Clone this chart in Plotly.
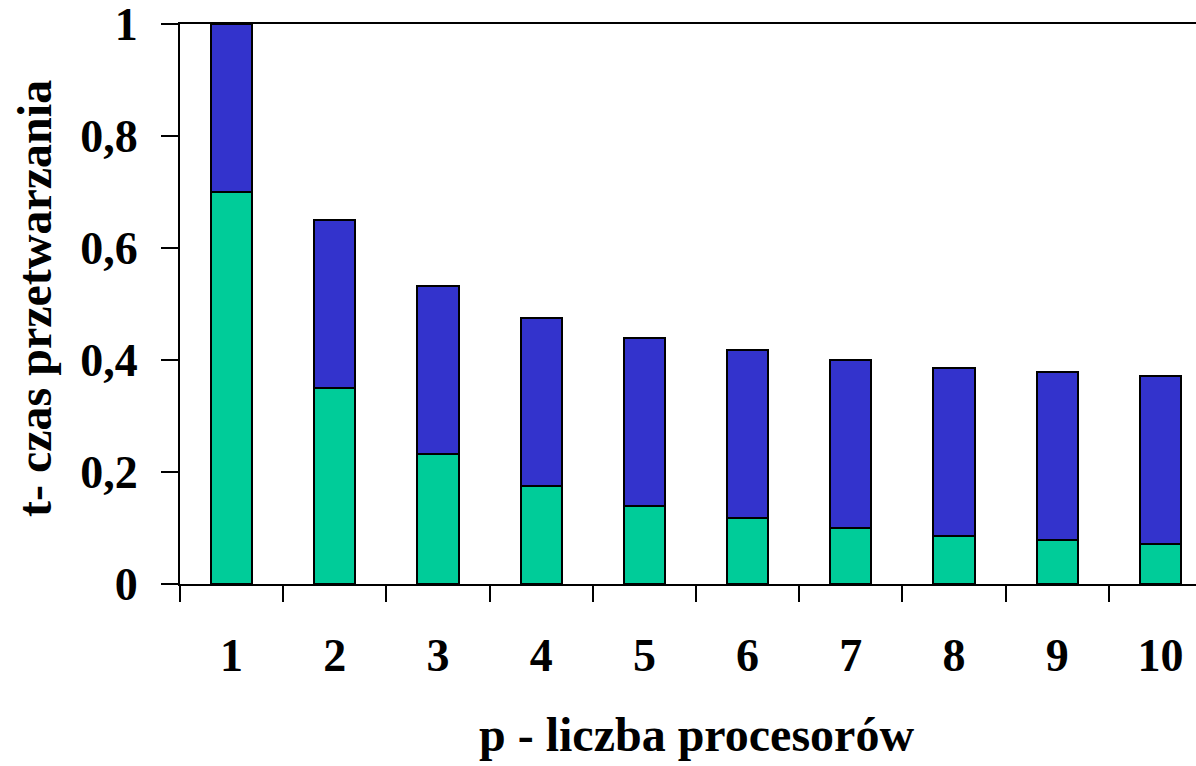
import plotly.graph_objects as go

# number of processors
processors = ["1", "2", "3", "4", "5", "6", "7", "8", "9", "10"]
# parallelisable part of processing time (shrinks with p)
parallel_part = [0.7, 0.35, 0.233, 0.175, 0.14, 0.118, 0.1, 0.086, 0.078, 0.071]
# sequential part of processing time (constant)
sequential_part = [0.3, 0.3, 0.3, 0.3, 0.3, 0.3, 0.3, 0.3, 0.3, 0.3]

y_tickvals = [0, 0.2, 0.4, 0.6, 0.8, 1]
y_ticktext = ["0", "0,2", "0,4", "0,6", "0,8", "1"]

FONT = "Liberation Serif, Times New Roman, serif"

fig = go.Figure()
fig.add_trace(go.Bar(
    x=processors, y=parallel_part, width=0.4,
    marker=dict(color="#00CC99", line=dict(color="black", width=2)),
))
fig.add_trace(go.Bar(
    x=processors, y=sequential_part, width=0.4,
    marker=dict(color="#3333CC", line=dict(color="black", width=2)),
))

fig.update_layout(
    barmode="stack",
    showlegend=False,
    width=1196, height=766,
    margin=dict(l=180, r=0, t=24, b=182),
    paper_bgcolor="white", plot_bgcolor="white",
    font=dict(family=FONT, color="black", size=46, weight="bold"),
    xaxis=dict(
        type="category",
        range=[-0.5, 9.345],
        tickson="boundaries",
        ticks="outside", ticklen=16, tickwidth=2, tickcolor="black",
        showline=True, linecolor="black", linewidth=2, mirror=True,
        showgrid=False, zeroline=False,
        tickfont=dict(family=FONT, size=46, weight="bold"),
        ticklabelstandoff=30,
    ),
    yaxis=dict(
        range=[0, 1],
        tickvals=y_tickvals, ticktext=y_ticktext,
        ticks="outside", ticklen=17, tickwidth=2, tickcolor="black",
        showline=True, linecolor="black", linewidth=2,
        showgrid=False, zeroline=False,
        tickfont=dict(family=FONT, size=46, weight="bold"),
        ticklabelstandoff=14,
        ticklabeloverflow="allow",
    ),
    annotations=[
        dict(text="p - liczba procesorów", xref="paper", yref="paper",
             x=(696 - 180) / 1016, y=-(734 - 584) / 560, xanchor="center", yanchor="middle",
             showarrow=False, font=dict(family=FONT, size=48, weight="bold")),
        dict(text="t- czas przetwarzania", xref="paper", yref="paper",
             x=-(180 - 34) / 1016, y=(584 - 299) / 560, xanchor="center", yanchor="middle", textangle=-90,
             showarrow=False, font=dict(family=FONT, size=48, weight="bold")),
    ],
)

fig.write_html("out.html")
